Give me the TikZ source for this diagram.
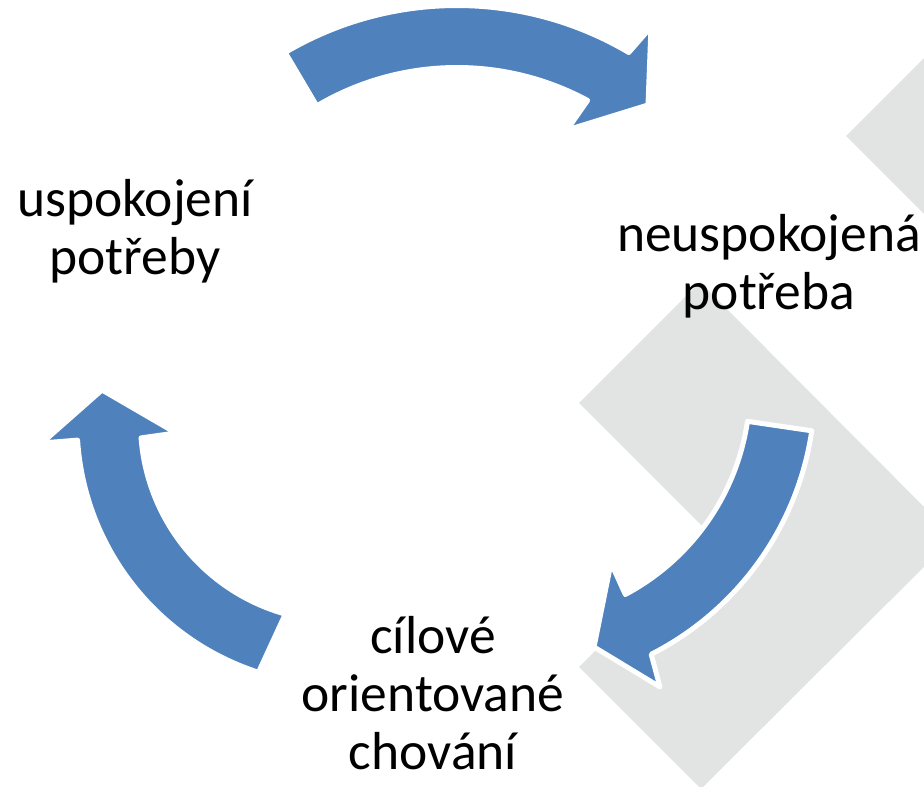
\documentclass[tikz,border=0pt]{standalone}
\usepackage{fontspec}
\setmainfont{Carlito}
\usetikzlibrary{calc}
\definecolor{cycleBlue}{HTML}{4F81BD}
\definecolor{cycleGray}{HTML}{E2E3E3}

\begin{document}
\begin{tikzpicture}[
  x=1pt, y=1pt,
  lbl/.style={font=\fontsize{53.5}{58}\selectfont, align=center, inner sep=0pt, text=black},
  backshape/.style={fill=cycleGray},
  cyclearrow/.style={fill=cycleBlue, draw=white, line width=5pt, line join=round}
]
\useasboundingbox (0,0) rectangle (924,787);

% background chevrons
\begin{scope}
  \clip (0,0) rectangle (924,787);
  \path[backshape] (579,384) -- (700,505) -- (954,250) -- (701,-2) -- (579,120) -- (711,252) -- cycle;
  \path[backshape] (846,651) -- (960,765) -- (960,537) -- cycle;
\end{scope}

% arc centres
\coordinate (ctop) at (457,444);
\coordinate (cright) at (515,400);
\coordinate (cleft) at (339,364);

% arrows
\path[cyclearrow] ($(ctop)+(120.6:337.5)$) arc[start angle=120.6, end angle=59.4, radius=337.5]
  -- (651,760) -- (648,682) -- (567,657)
  -- ($(ctop)+(61.7:275.5)$) arc[start angle=61.7, end angle=120.6, radius=275.5] -- cycle;
\path[cyclearrow] ($(cright)+(-8.4:300)$) arc[start angle=-8.4, end angle=-63, radius=300]
  -- (660,100) -- (594,140) -- (611,224)
  -- ($(cright)+(-62:235)$) arc[start angle=-62, end angle=-8.4, radius=235] -- cycle;
\path[cyclearrow] ($(cleft)+(252.1:262)$) arc[start angle=252.1, end angle=183.75, radius=262]
  -- (42,344) -- (102,397) -- (176,354)
  -- ($(cleft)+(184.3:198.5)$) arc[start angle=184.3, end angle=254.3, radius=198.5] -- cycle;

% labels
\node[lbl] (uspokojeni) at (135,556) {uspokojení\\potřeby};
\node[lbl] (potreba) at (769,521) {neuspokojená\\potřeba};
\node[lbl] (chovani) at (433,94) {cílové\\orientované\\chování};
\end{tikzpicture}
\end{document}
